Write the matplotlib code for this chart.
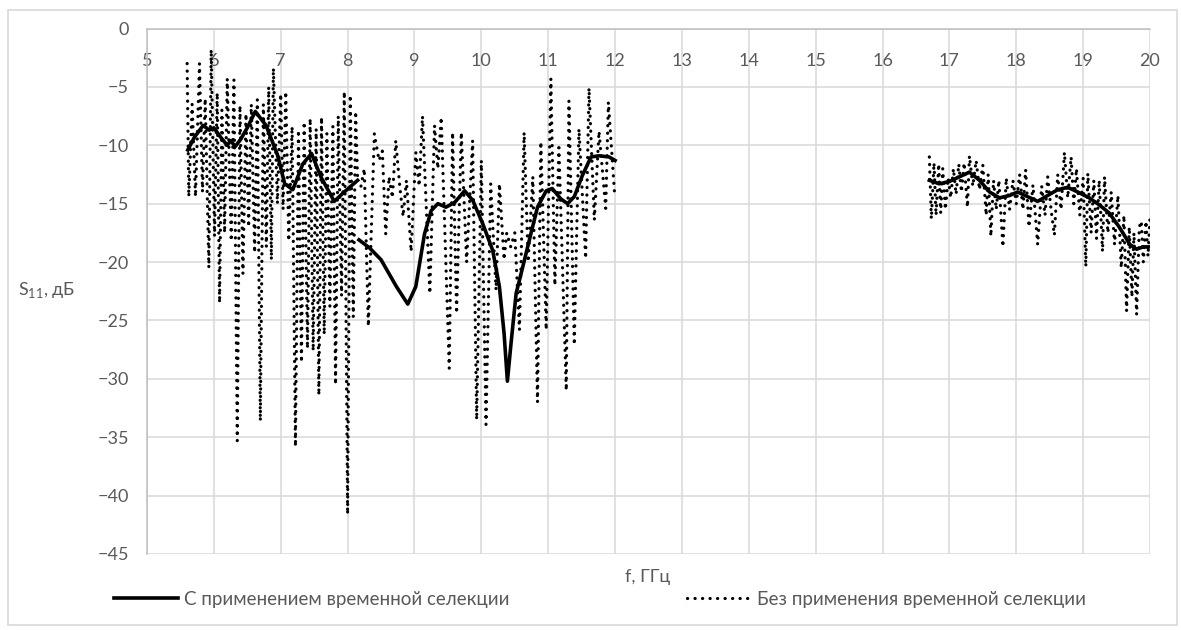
import numpy as np
import matplotlib.pyplot as plt
from matplotlib.lines import Line2D
from matplotlib.patches import Rectangle

# with time selection (solid), three measured bands, NaN breaks between them
f_sel = [5.61, 5.71, 5.84, 5.93, 6.0, 6.1, 6.2, 6.25, 6.32, 6.4, 6.5, 6.62, 6.78, 6.95, 7.06, 7.18,
         7.33, 7.46, 7.6, 7.8, 7.95, 8.15, np.nan,
         8.17, 8.33, 8.5, 8.73, 8.9, 9.02, 9.15, 9.25, 9.35, 9.47, 9.6, 9.75, 9.87, 10.02, 10.17,
         10.27, 10.34, 10.39, 10.44, 10.52, 10.62, 10.74, 10.84, 10.97, 11.06, 11.19, 11.29, 11.39,
         11.51, 11.64, 11.76, 11.91, 12.0, np.nan,
         16.7, 16.85, 17.0, 17.15, 17.3, 17.45, 17.6, 17.75, 17.9, 18.02, 18.17, 18.32, 18.47,
         18.62, 18.77, 18.92, 19.09, 19.24, 19.39, 19.54, 19.7, 19.8, 19.9, 20.0]
s_sel = [-10.4, -9.3, -8.3, -8.7, -8.5, -9.3, -10.0, -9.6, -10.1, -9.5, -8.5, -7.1, -8.3, -10.8, -13.3, -13.8,
         -11.6, -10.7, -12.7, -14.8, -14.0, -13.0, np.nan,
         -18.1, -18.8, -19.8, -22.1, -23.6, -22.1, -17.6, -15.6, -15.0, -15.3, -14.9, -13.9, -14.7, -16.7, -19.0,
         -22.1, -26.1, -30.2, -27.2, -22.7, -20.4, -17.6, -15.3, -13.9, -13.7, -14.6, -15.0, -14.4,
         -12.6, -11.0, -10.9, -11.0, -11.3, np.nan,
         -13.0, -13.3, -13.1, -12.7, -12.3, -13.0, -14.0, -14.5, -14.3, -14.0, -14.4, -14.8, -14.3,
         -13.8, -13.6, -14.0, -14.5, -15.1, -15.8, -17.0, -18.5, -18.9, -18.7, -18.7]

# without time selection (dotted)
f_raw = [5.6, 5.625, 5.675, 5.725, 5.785, 5.83, 5.87, 5.925, 5.96, 6.01, 6.05, 6.085, 6.12, 6.16,
         6.2, 6.26, 6.3, 6.35, 6.39, 6.435, 6.48, 6.52, 6.56, 6.61, 6.65, 6.695, 6.74, 6.785,
         6.82, 6.86, 6.89, 6.95, 7.0, 7.035, 7.075, 7.12, 7.17, 7.22, 7.265, 7.31, 7.35, 7.4,
         7.44, 7.485, 7.53, 7.57, 7.61, 7.65, 7.69, 7.735, 7.78, 7.82, 7.86, 7.91, 7.95, 8.0,
         8.04, 8.085, 8.12, 8.15, np.nan,
         8.2, 8.25, 8.31, 8.4, 8.47, 8.52, 8.57, 8.62, 8.67, 8.72, 8.78, 8.83, 8.88, 8.95, 9.02,
         9.07, 9.12, 9.23, 9.3, 9.35, 9.4, 9.52, 9.57, 9.63, 9.7, 9.78, 9.87, 9.93, 10.0, 10.07,
         10.14, 10.22, 10.27, 10.34, 10.38, 10.44, 10.5, 10.57, 10.64, 10.7, 10.77, 10.84, 10.89,
         10.97, 11.04, 11.1, 11.16, 11.27, 11.31, 11.39, 11.46, 11.56, 11.61, 11.69, 11.76, 11.86,
         11.9, 11.99, np.nan,
         16.7, 16.73, 16.77, 16.8, 16.84, 16.87, 16.9, 16.94, 16.98, 17.02, 17.06, 17.1, 17.14,
         17.18, 17.22, 17.27, 17.3, 17.35, 17.4, 17.45, 17.5, 17.55, 17.58, 17.62, 17.66, 17.7,
         17.74, 17.8, 17.85, 17.9, 17.95, 18.0, 18.05, 18.1, 18.14, 18.19, 18.25, 18.32, 18.38,
         18.43, 18.47, 18.52, 18.57, 18.62, 18.67, 18.72, 18.77, 18.82, 18.86, 18.9, 18.95, 19.0,
         19.04, 19.07, 19.12, 19.16, 19.2, 19.24, 19.29, 19.32, 19.37, 19.42, 19.47, 19.52, 19.57,
         19.61, 19.65, 19.69, 19.73, 19.76, 19.8, 19.84, 19.87, 19.9, 19.94, 19.97, 20.0]
s_raw = [-3.0, -14.4, -6.5, -14.4, -3.0, -14.0, -6.0, -20.5, -1.8, -17.8, -5.5, -23.5, -7.0, -17.5,
         -4.3, -18.2, -4.4, -35.3, -6.6, -21.0, -7.3, -17.0, -6.5, -19.2, -6.1, -33.6, -6.5, -18.7,
         -5.0, -19.8, -3.4, -15.0, -5.6, -15.5, -5.4, -18.2, -8.4, -35.8, -8.7, -28.6, -8.0, -27.4,
         -7.7, -27.6, -8.6, -31.4, -7.6, -26.2, -9.0, -23.8, -8.4, -30.5, -7.5, -22.9, -5.4, -41.6,
         -5.7, -24.7, -7.1, -13.0, np.nan,
         -13.5, -12.0, -25.5, -9.0, -11.3, -10.5, -17.6, -12.7, -14.5, -9.6, -13.5, -16.1, -13.0, -19.1, -10.6,
         -13.5, -7.5, -22.7, -8.3, -12.0, -7.6, -29.1, -8.9, -24.4, -8.9, -20.0, -9.6, -33.5, -11.3, -33.9,
         -13.3, -22.4, -13.3, -19.8, -17.5, -18.7, -17.5, -25.8, -8.9, -20.0, -12.7, -32.0, -9.7,
         -25.8, -4.3, -22.0, -10.2, -31.0, -6.2, -27.1, -8.6, -19.7, -5.1, -16.4, -8.8, -15.4,
         -6.3, -13.9, np.nan,
         -11.0, -16.3, -11.5, -16.0, -11.6, -15.8, -12.0, -15.5, -12.8, -14.5, -12.0, -14.2, -11.6,
         -14.0, -11.5, -15.3, -10.9, -13.5, -11.3, -13.8, -11.7, -16.0, -12.5, -17.8, -13.0, -15.5,
         -13.0, -18.7, -12.8, -15.5, -13.0, -15.0, -12.5, -15.5, -12.1, -17.0, -13.4, -18.5, -13.5,
         -16.0, -12.7, -15.5, -17.7, -12.5, -15.5, -10.6, -14.5, -11.0, -15.0, -12.0, -16.0, -12.8,
         -20.4, -12.4, -17.5, -13.0, -18.0, -13.0, -19.1, -12.7, -17.5, -14.0, -18.5, -14.3, -20.5,
         -16.0, -24.2, -17.0, -23.0, -17.5, -24.5, -17.0, -16.5, -20.0, -16.5, -19.5, -16.2]

label_sel = 'С применением временной селекции'
label_raw = 'Без применения временной селекции'

plt.rcParams['font.family'] = ['Lato', 'DejaVu Sans']
grey = '#595959'
grid_c = '#d9d9d9'
dots = (0, (0.05, 2.3))

fig = plt.figure(figsize=(11.81, 6.30), dpi=100)
fig.patches.append(Rectangle((0.007, 0.008), 0.99, 0.976, transform=fig.transFigure,
                             fill=False, edgecolor=grid_c, linewidth=1.2))
ax = fig.add_axes([147 / 1181, 1 - 554 / 630, (1150 - 147) / 1181, (554 - 28.5) / 630])

ax.plot(f_raw, s_raw, color='black', linewidth=2.3, linestyle=dots,
        dash_capstyle='round', label=label_raw, zorder=3)
ax.plot(f_sel, s_sel, color='black', linewidth=2.6, label=label_sel, zorder=4)

ax.set_xlim(5, 20)
ax.set_ylim(-45, 0)
ax.set_xticks(np.arange(5, 21, 1))
ax.set_yticks(np.arange(-45, 1, 5))
ax.grid(True, color=grid_c, linewidth=1.1)
ax.set_axisbelow(True)
for s in ['right', 'bottom']:
    ax.spines[s].set_visible(False)
for s in ['top', 'left']:
    ax.spines[s].set_color('#bfbfbf')
    ax.spines[s].set_linewidth(1.1)

ax.xaxis.tick_top()
ax.tick_params(axis='x', length=0, pad=-29, labelsize=13, labelcolor=grey)
ax.tick_params(axis='y', length=0, pad=13, labelsize=13, labelcolor=grey)

fig.text(18 / 1181, 1 - 290 / 630, r'S$_{\mathregular{11}}$, дБ', fontsize=13, color=grey,
         ha='left', va='center')
fig.text(648 / 1181, 1 - 577 / 630, 'f, ГГц', fontsize=13, color=grey, ha='center', va='center')

handles = [Line2D([], [], color='black', linewidth=2.6),
           Line2D([], [], color='black', linewidth=2.3, linestyle=dots, dash_capstyle='round')]
fig.legend(handles, [label_sel, label_raw], loc='center', bbox_to_anchor=(600 / 1181, 1 - 599 / 630),
           ncol=2, frameon=False, fontsize=13.5, handlelength=3.4, handletextpad=0.3,
           columnspacing=9.5, labelcolor=grey)

fig.savefig('out.png', dpi=100)
